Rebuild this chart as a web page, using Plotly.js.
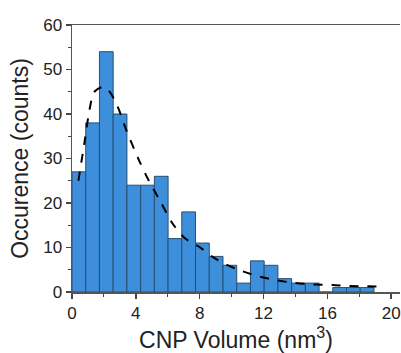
<!DOCTYPE html>
<html><head><meta charset="utf-8">
<script src="https://cdn.plot.ly/plotly-3.0.1.min.js"></script>
<style>html,body{margin:0;padding:0;background:#fff}#chart{width:401px;height:353px}</style>
</head><body><div id="chart"></div>
<script>
const binStart = 0;
const binWidth = 0.86;
const counts = [27, 38, 54, 40, 24, 24, 26, 12, 18, 11, 8, 6, 2, 7, 6, 3, 2, 2, 0, 1, 1, 1];
const fitX = [0.4, 0.8, 1.1, 1.4, 2.0, 2.4, 2.9, 3.4, 4.2, 4.8, 5.5, 6.3, 7.1, 8.0, 8.8, 9.7, 10.5, 11.5, 12.6, 13.8, 15.1, 16.3, 17.4, 18.4, 19.5];
const fitY = [25, 34, 41, 45, 46.1, 44.8, 41.3, 36.4, 29.6, 25.1, 20.6, 15.4, 12, 10.1, 7.9, 6.1, 4.9, 3.7, 2.8, 2.1, 1.7, 1.6, 1.35, 1.3, 1.2];
const xTicks = [0, 4, 8, 12, 16, 20];
const yTicks = [0, 10, 20, 30, 40, 50, 60];

const barX = counts.map((c, i) => binStart + binWidth * (i + 0.5));

const bars = {
  type: 'bar', x: barX, y: counts, width: binWidth,
  marker: {color: '#3d8fdb', line: {color: '#2a4d70', width: 1}},
  hoverinfo: 'x+y'
};
const fit = {
  type: 'scatter', mode: 'lines', x: fitX, y: fitY,
  line: {color: '#000', width: 2, dash: 'dash', shape: 'spline', smoothing: 0.8}
};
const axisFont = {family: 'Liberation Sans, Arial, sans-serif', size: 17, color: '#222'};
const layout = {
  width: 401, height: 353,
  margin: {l: 72, r: 1, t: 25, b: 61},
  paper_bgcolor: '#fff', plot_bgcolor: '#fff',
  showlegend: false, bargap: 0,
  font: axisFont,
  xaxis: {
    range: [0, 20.55], tickvals: xTicks, ticktext: xTicks.map(String),
    ticklabeloverflow: 'allow',
    ticks: 'outside', ticklen: 5, tickwidth: 1.5, tickcolor: '#444',
    minor: {dtick: 2, tick0: 0, ticks: 'outside', ticklen: 3, tickcolor: '#444', tickwidth: 1},
    showline: true, linecolor: '#555', linewidth: 1.5, mirror: true,
    showgrid: false, zeroline: false, tickfont: axisFont,
    title: {text: 'CNP Volume (nm<sup>3</sup>)', font: {family: 'Liberation Sans, Arial, sans-serif', size: 23, color: '#222'}, standoff: 9}
  },
  yaxis: {
    range: [0, 60], tickvals: yTicks, ticktext: yTicks.map(String),
    ticklabeloverflow: 'allow',
    ticks: 'outside', ticklen: 5, tickwidth: 1.5, tickcolor: '#444',
    minor: {dtick: 5, tick0: 0, ticks: 'outside', ticklen: 3, tickcolor: '#444', tickwidth: 1},
    showline: true, linecolor: '#555', linewidth: 1.5,
    showgrid: false, zeroline: false, tickfont: axisFont,
    title: {text: 'Occurence (counts)', font: {family: 'Liberation Sans, Arial, sans-serif', size: 23, color: '#222'}, standoff: 8}
  }
};
Plotly.newPlot('chart', [bars, fit], layout, {displayModeBar: false, staticPlot: true});
</script></body></html>
